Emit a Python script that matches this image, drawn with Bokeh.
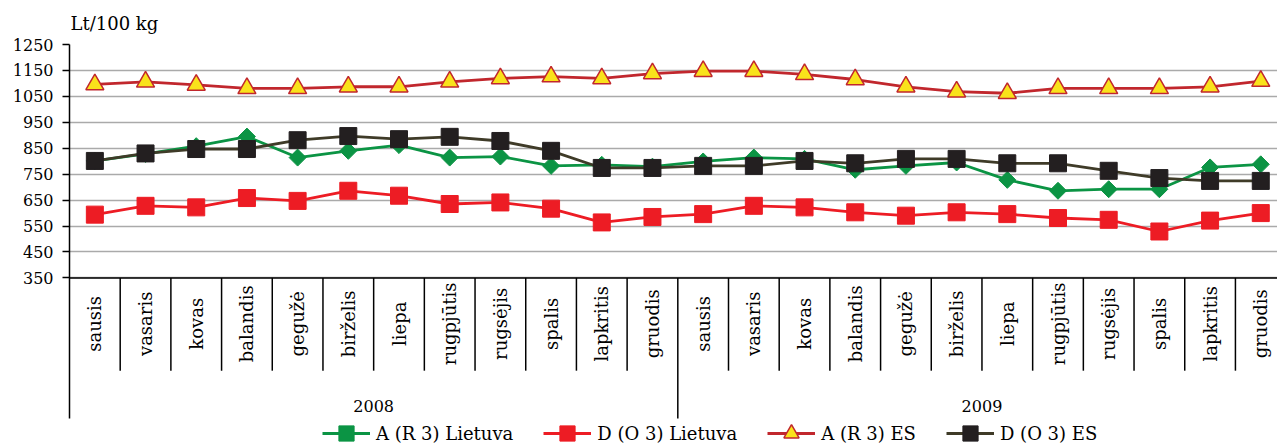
import numpy as np
from bokeh.plotting import figure
from bokeh.models import Range1d, FixedTicker, Span, Legend, LegendItem
from bokeh.embed import file_html
from bokeh.resources import INLINE
from bokeh.core.properties import value

# ---------------- data ----------------
years = ["2008", "2009"]
months = ["sausis", "vasaris", "kovas", "balandis", "gegužė", "birželis",
          "liepa", "rugpjūtis", "rugsėjis", "spalis", "lapkritis", "gruodis"]
y_ticks = [350, 450, 550, 650, 750, 850, 950, 1050, 1150, 1250]

a_lt = [801, 828, 858, 895, 814, 840, 862, 814, 818, 782, 786, 779,
        799, 814, 809, 767, 782, 795, 728, 686, 692, 692, 776, 788]
d_lt = [594, 628, 622, 658, 647, 686, 667, 635, 641, 617, 564, 585,
        596, 628, 622, 603, 590, 603, 596, 581, 574, 529, 571, 600]
a_es = [1096, 1106, 1094, 1081, 1081, 1087, 1087, 1106, 1119, 1126, 1119, 1138,
        1147, 1147, 1135, 1115, 1087, 1068, 1062, 1081, 1081, 1081, 1087, 1109]
d_es = [801, 830, 847, 847, 881, 897, 885, 894, 878, 840, 774, 774,
        782, 782, 801, 792, 809, 809, 792, 792, 763, 735, 724, 724]

labels = ["A (R 3) Lietuva", "D (O 3) Lietuva", "A (R 3) ES", "D (O 3) ES"]

# ---------------- layout ----------------
FONT = "DejaVu Serif"
n = len(months) * len(years)
xs = np.arange(n) + 0.5
cat_labels = months * len(years)

PX = 0.26                      # pixels per value unit
Y_AXIS_END = 350 - 141 / PX    # where the left axis line stops
Y_BOTTOM = 350 - 169 / PX      # bottom of the frame (canvas bottom)

p = figure(width=1277, height=446,
           x_range=Range1d(0, 23.83), y_range=Range1d(Y_BOTTOM, y_ticks[-1]),
           output_backend="svg", toolbar_location=None, x_axis_location=None,
           min_border_left=69, min_border_right=0, min_border_top=43,
           min_border_bottom=0, background_fill_color="white",
           border_fill_color="white")
p.outline_line_color = None
p.xgrid.visible = False
p.ygrid.ticker = FixedTicker(ticks=y_ticks)
p.ygrid.grid_line_color = "#aaaaaa"
p.ygrid.grid_line_width = 1.5

ax = p.yaxis[0]
ax.ticker = FixedTicker(ticks=y_ticks)
ax.bounds = (Y_AXIS_END, y_ticks[-1])
ax.axis_line_color = "black"
ax.axis_line_width = 1.5
ax.major_tick_line_color = "black"
ax.major_tick_line_width = 1.5
ax.major_tick_out = 7
ax.major_tick_in = 0
ax.minor_tick_line_color = None
ax.major_label_standoff = 9
ax.major_label_text_font = FONT
ax.major_label_text_font_size = "16px"
ax.major_label_text_color = "black"

p.title.text = "Lt/100 kg"
p.title.text_font = FONT
p.title.text_font_size = "18px"
p.title.text_font_style = "normal"
p.title.text_color = "black"
p.title.align = "left"
p.title.standoff = 21
p.title.offset = 1

# category axis line
p.add_layout(Span(location=y_ticks[0], dimension="width",
                  line_color="black", line_width=1.5))

# separators between months / years
sep_x = np.arange(1, n)
short = sep_x[sep_x % len(months) != 0]
long_ = sep_x[sep_x % len(months) == 0]
p.segment(x0=short, y0=y_ticks[0], x1=short, y1=350 - 93 / PX,
          line_color="black", line_width=1.5)
p.segment(x0=long_, y0=y_ticks[0], x1=long_, y1=Y_AXIS_END,
          line_color="black", line_width=1.5)

# month labels
p.text(x=xs, y=350 - 46 / PX, text=cat_labels, angle=np.pi / 2,
       text_align="center", text_baseline="middle",
       text_font=value(FONT), text_font_size="18px", text_color="black")
# year labels
year_x = np.arange(len(years)) * len(months) + len(months) / 2
p.text(x=year_x, y=350 - 128 / PX, text=years,
       text_align="center", text_baseline="middle",
       text_font=value(FONT), text_font_size="16px", text_color="black")

# ---------------- series ----------------
items = []

l1 = p.line(xs, a_lt, line_color="#0b9444", line_width=2.8)
m1 = p.scatter(xs, a_lt, marker="square", angle=np.pi / 4, size=12,
               fill_color="#0b9444", line_color="#0b9444")
items.append(LegendItem(label=labels[0], renderers=[l1, m1]))

l2 = p.line(xs, d_lt, line_color="#ed1c24", line_width=2.8)
m2 = p.scatter(xs, d_lt, marker="square", size=17,
               fill_color="#ed1c24", line_color="#ed1c24")
items.append(LegendItem(label=labels[1], renderers=[l2, m2]))

l3 = p.line(xs, a_es, line_color="#c1272d", line_width=2.8)
m3 = p.scatter(xs, a_es, marker="triangle", size=18,
               fill_color="#f9e21b", line_color="#c1272d", line_width=1.5)
items.append(LegendItem(label=labels[2], renderers=[l3, m3]))

l4 = p.line(xs, d_es, line_color="#3f3b28", line_width=2.8)
m4 = p.scatter(xs, d_es, marker="square", size=17,
               fill_color="#231f20", line_color="#231f20")
items.append(LegendItem(label=labels[3], renderers=[l4, m4]))

legend = Legend(items=items, orientation="horizontal", location=(253, -6),
                glyph_width=48, glyph_height=38, label_height=38,
                label_standoff=6, spacing=30, padding=0, margin=0,
                label_text_font=FONT, label_text_font_size="18px",
                label_text_color="black", border_line_color=None,
                background_fill_alpha=0)
p.add_layout(legend)

open("out.html", "w").write(file_html(p, INLINE))
